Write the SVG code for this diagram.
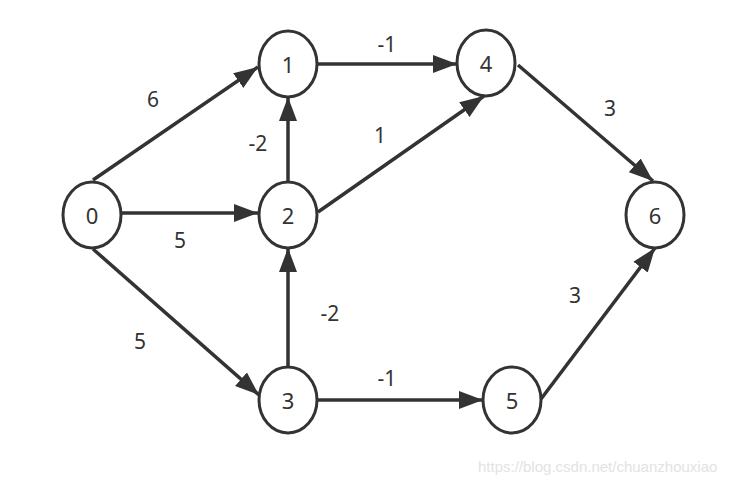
<svg xmlns="http://www.w3.org/2000/svg" width="740" height="484" viewBox="0 0 740 484">
<style>
.n ellipse{fill:#fff;stroke:#333;stroke-width:3}
.n text{font-family:"Noto Sans","DejaVu Sans",sans-serif;font-size:22px;fill:#333;text-anchor:middle;dominant-baseline:central}
.e line{stroke:#333;stroke-width:3.5;marker-end:url(#ah)}
.l{font-family:"Noto Sans","DejaVu Sans",sans-serif;font-size:21px;fill:#333;text-anchor:middle;dominant-baseline:central}
.wm{font-family:"Liberation Sans",Arial,sans-serif;font-size:15px;fill:#e3e3e3}
</style>
<defs>
<marker id="ah" markerUnits="userSpaceOnUse" markerWidth="26" markerHeight="20" refX="24" refY="10" orient="auto">
<path d="M0,1 L24,10 L0,19 Z" fill="#333"/>
</marker>
</defs>
<rect width="740" height="484" fill="#fff"/>
<g id="edges" class="e">
<line x1="93" y1="180" x2="258" y2="67"/>
<line x1="122" y1="213" x2="258" y2="213"/>
<line x1="93" y1="249" x2="259" y2="395"/>
<line x1="288" y1="181" x2="288" y2="97"/>
<line x1="318" y1="212" x2="484" y2="96"/>
<line x1="318" y1="64" x2="457" y2="64"/>
<line x1="518" y1="65" x2="653" y2="181"/>
<line x1="288" y1="367" x2="288" y2="248"/>
<line x1="318" y1="400" x2="483" y2="400"/>
<line x1="541" y1="399" x2="655" y2="248"/>
</g>
<g id="labels">
<text class="l" x="153" y="99">6</text>
<text class="l" x="180" y="240">5</text>
<text class="l" x="140" y="341">5</text>
<text class="l" x="258" y="143">-2</text>
<text class="l" x="380" y="135">1</text>
<text class="l" x="387" y="44">-1</text>
<text class="l" x="610" y="108">3</text>
<text class="l" x="330" y="313">-2</text>
<text class="l" x="387" y="378">-1</text>
<text class="l" x="575" y="295">3</text>
</g>
<g id="node0" class="n"><ellipse cx="92" cy="215" rx="29" ry="33"/><text x="92" y="215">0</text></g>
<g id="node1" class="n"><ellipse cx="288" cy="64" rx="29" ry="33"/><text x="288" y="64">1</text></g>
<g id="node2" class="n"><ellipse cx="288" cy="215" rx="29" ry="33"/><text x="288" y="215">2</text></g>
<g id="node3" class="n"><ellipse cx="288" cy="400" rx="29" ry="33"/><text x="288" y="400">3</text></g>
<g id="node4" class="n"><ellipse cx="486" cy="63" rx="29" ry="33"/><text x="486" y="63">4</text></g>
<g id="node5" class="n"><ellipse cx="512" cy="400" rx="29" ry="33"/><text x="512" y="400">5</text></g>
<g id="node6" class="n"><ellipse cx="655" cy="215" rx="29" ry="33"/><text x="655" y="215">6</text></g>
<text class="wm" x="478" y="472">https://blog.csdn.net/chuanzhouxiao</text>
</svg>
